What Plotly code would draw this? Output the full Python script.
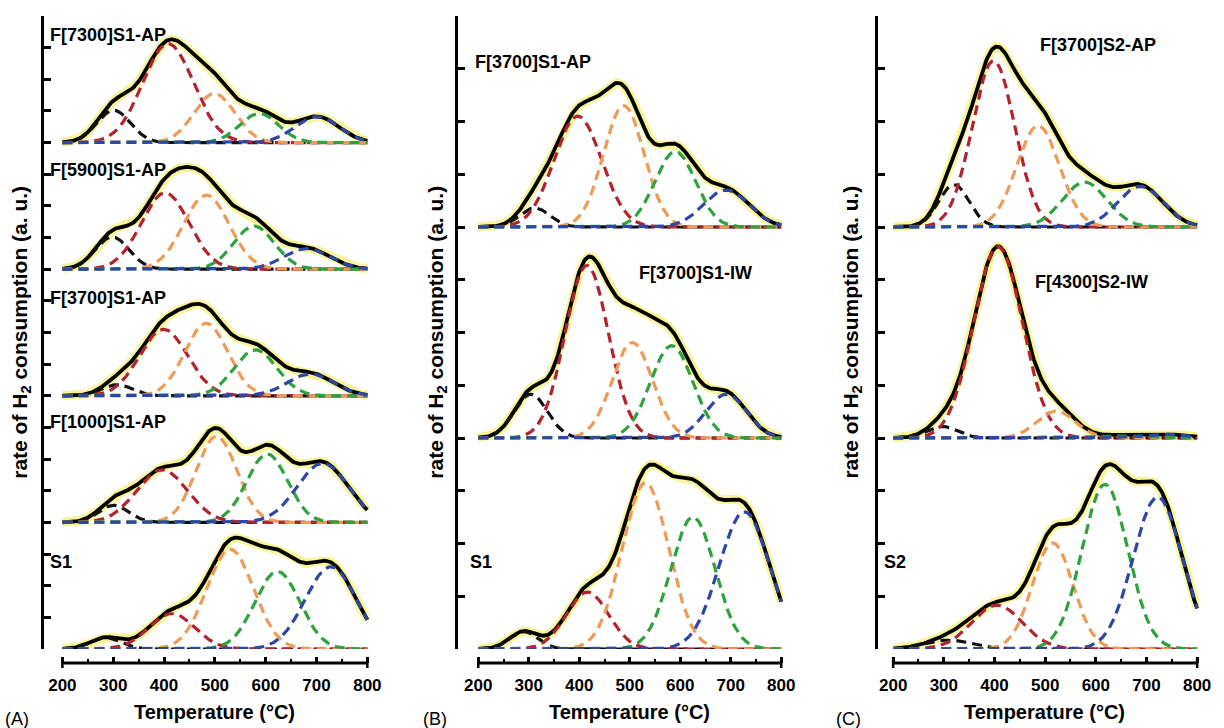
import numpy as np
import plotly.graph_objects as go

# ---------------- data ----------------
T_MIN, T_MAX = 200, 800
TEMPS = np.arange(T_MIN, T_MAX + 1, 2)
TICK_VALUES = [200, 300, 400, 500, 600, 700, 800]
TICK_LABELS = ["200", "300", "400", "500", "600", "700", "800"]
COMPONENTS = ["black", "red", "orange", "green", "blue"]

# Gaussian deconvolution peaks: centre (deg C), height (a.u.), sigma (deg C)
# order of components: black, red, orange, green, blue
A_F7300_center = [301, 408, 499, 587, 701]
A_F7300_height = [1.02, 3.12, 1.55, 0.92, 0.82]
A_F7300_sigma = [33, 50, 40, 38, 43]

A_F5900_center = [298, 402, 483, 577, 681]
A_F5900_height = [1.02, 2.41, 2.34, 1.36, 0.65]
A_F5900_sigma = [33, 47, 45, 40, 45]

A_F3700_center = [308, 399, 483, 580, 688]
A_F3700_height = [0.35, 2.10, 2.29, 1.45, 0.69]
A_F3700_sigma = [30, 47, 42, 42, 45]

A_F1000_center = [301, 396, 503, 603, 712]
A_F1000_height = [0.54, 1.66, 2.72, 2.16, 1.87]
A_F1000_sigma = [30, 50, 40, 40, 50]

A_S1_center = [285, 415, 530, 623, 728]
A_S1_height = [0.36, 1.12, 3.15, 2.45, 2.60]
A_S1_sigma = [30, 45, 46, 44, 50]

B_F3700AP_center = [312, 397, 488, 590, 691]
B_F3700AP_height = [0.36, 2.10, 2.30, 1.43, 0.70]
B_F3700AP_sigma = [30, 47, 40, 40, 45]

B_F3700IW_center = [304, 415, 505, 583, 691]
B_F3700IW_height = [0.83, 3.27, 1.81, 1.75, 0.83]
B_F3700IW_sigma = [33, 43, 40, 42, 40]

B_S1_center = [290, 416, 531, 625, 727]
B_S1_height = [0.33, 1.08, 3.15, 2.50, 2.60]
B_S1_sigma = [28, 42, 46, 44, 50]

C_F3700S2AP_center = [320, 398, 486, 578, 688]
C_F3700S2AP_height = [0.80, 3.15, 1.92, 0.85, 0.77]
C_F3700S2AP_sigma = [30, 42, 42, 44, 45]

C_F4300S2IW_center = [297, 407, 522, 640, 730]
C_F4300S2IW_height = [0.22, 3.63, 0.51, 0.04, 0.07]
C_F4300S2IW_sigma = [30, 48, 38, 45, 50]

C_S2_center = [310, 405, 515, 618, 722]
C_S2_height = [0.17, 0.83, 2.01, 3.12, 2.88]
C_S2_sigma = [45, 50, 40, 45, 48]

# sample names and vertical offsets (a.u.) of each stacked profile
A_names = ["F[7300]S1-AP", "F[5900]S1-AP", "F[3700]S1-AP", "F[1000]S1-AP", "S1"]
A_offsets = [16, 12, 8, 4, 0]
B_names = ["F[3700]S1-AP", "F[3700]S1-IW", "S1"]
B_offsets = [8, 4, 0]
C_names = ["F[3700]S2-AP", "F[4300]S2-IW", "S2"]
C_offsets = [8, 4, 0]

# ---------------- styles ----------------
COLORS = {"black": "#111111", "red": "#B3232D", "orange": "#F09A57",
          "green": "#2EA23C", "blue": "#2F47A4"}
FONT = "Arial, Liberation Sans, sans-serif"
W, H = 1224, 728


def px_x(p):
    return p / W


def px_y(p):
    return 1 - p / H


panels = [
    dict(key="", names=A_names, offsets=A_offsets,
         peaks=[(A_F7300_center, A_F7300_height, A_F7300_sigma),
                (A_F5900_center, A_F5900_height, A_F5900_sigma),
                (A_F3700_center, A_F3700_height, A_F3700_sigma),
                (A_F1000_center, A_F1000_height, A_F1000_sigma),
                (A_S1_center, A_S1_height, A_S1_sigma)],
         ymax=20, axis_px=44, t200_px=63, t800_px=371,
         labels=[(48, 35), (48, 170), (48, 298), (48, 422), (48, 562)],
         ytitle_x=21, xtitle_x=217, tag="(A)", tag_x=17),
    dict(key="2", names=B_names, offsets=B_offsets,
         peaks=[(B_F3700AP_center, B_F3700AP_height, B_F3700AP_sigma),
                (B_F3700IW_center, B_F3700IW_height, B_F3700IW_sigma),
                (B_S1_center, B_S1_height, B_S1_sigma)],
         ymax=12, axis_px=463, t200_px=483, t800_px=789,
         labels=[(478, 62), (643, 273), (473, 562)],
         ytitle_x=441, xtitle_x=636, tag="(B)", tag_x=439),
    dict(key="3", names=C_names, offsets=C_offsets,
         peaks=[(C_F3700S2AP_center, C_F3700S2AP_height, C_F3700S2AP_sigma),
                (C_F4300S2IW_center, C_F4300S2IW_height, C_F4300S2IW_sigma),
                (C_S2_center, C_S2_height, C_S2_sigma)],
         ymax=12, axis_px=887, t200_px=902, t800_px=1209,
         labels=[(1048, 45), (1043, 282), (891, 562)],
         ytitle_x=860, xtitle_x=1055, tag="(C)", tag_x=857),
]

Y_TOP_PX, Y_BOT_PX, XAXIS_PX = 16, 649, 663

fig = go.Figure()
shapes = []
annotations = []

for pan in panels:
    k = pan["key"]
    xref = "x" + k
    yref = "y" + k
    for (cen, hgt, sig), off in zip(pan["peaks"], pan["offsets"]):
        comps = [h * np.exp(-((TEMPS - c) ** 2) / (2 * s ** 2))
                 for c, h, s in zip(cen, hgt, sig)]
        total = np.sum(comps, axis=0)
        # measured-data band (yellow)
        fig.add_trace(go.Scatter(x=TEMPS, y=total + off, mode="lines",
                                 line=dict(color="rgba(242,234,50,0.5)", width=9),
                                 xaxis=xref, yaxis=yref, hoverinfo="skip"))
        # fitted envelope
        fig.add_trace(go.Scatter(x=TEMPS, y=total + off, mode="lines",
                                 line=dict(color="#000000", width=3.8),
                                 xaxis=xref, yaxis=yref, hoverinfo="skip"))
        for name, comp in zip(COMPONENTS, comps):
            fig.add_trace(go.Scatter(x=TEMPS, y=comp + off, mode="lines",
                                     line=dict(color=COLORS[name], width=3.2,
                                               dash="10px,6px"),
                                     xaxis=xref, yaxis=yref, hoverinfo="skip"))

    ppd = (pan["t800_px"] - pan["t200_px"]) / 600.0
    x_lo = 200 - (pan["t200_px"] - pan["axis_px"]) / ppd
    x_hi = 800 + 2 / ppd
    xdom = [px_x(pan["axis_px"]), px_x(pan["t800_px"] + 2)]
    ax = dict(domain=xdom, range=[x_lo, x_hi], anchor="free",
              position=px_y(XAXIS_PX), showline=False, showgrid=False,
              zeroline=False, ticks="inside", ticklen=6, tickwidth=2.5,
              tickcolor="black", tickvals=TICK_VALUES, ticktext=TICK_LABELS,
              tickfont=dict(family=FONT, size=17, color="black", weight="bold"),
              minor=dict(ticks="inside", ticklen=4, tickwidth=2,
                         tickcolor="black", dtick=50, tick0=0),
              ticklabelstandoff=10)
    ay = dict(domain=[px_y(Y_BOT_PX), px_y(Y_TOP_PX)], range=[0, pan["ymax"]],
              anchor=xref, showline=True, linewidth=3, linecolor="black",
              ticks="inside", ticklen=7, tickwidth=2.5, tickcolor="black",
              dtick=1, tick0=0, showticklabels=False, showgrid=False,
              zeroline=False)
    fig.update_layout(**{"xaxis" + k: ax, "yaxis" + k: ay})

    # x axis line with end caps
    yline = px_y(XAXIS_PX)
    shapes.append(dict(type="line", xref=xref, yref="paper", x0=200, x1=800,
                       y0=yline, y1=yline, line=dict(color="black", width=3)))
    for xe in (200, 800):
        shapes.append(dict(type="line", xref=xref, yref="paper", x0=xe, x1=xe,
                           y0=px_y(XAXIS_PX + 5), y1=px_y(XAXIS_PX - 6),
                           line=dict(color="black", width=2.5)))

    for name, (lx, ly) in zip(pan["names"], pan["labels"]):
        annotations.append(dict(text=name, xref="paper", yref="paper",
                                x=px_x(lx), y=px_y(ly), xanchor="left",
                                yanchor="middle", showarrow=False,
                                font=dict(family=FONT, size=18, color="black",
                                          weight="bold")))
    annotations.append(dict(text="rate of H<sub>2</sub> consumption (a. u.)",
                            xref="paper", yref="paper",
                            x=px_x(pan["ytitle_x"]), y=px_y(332), textangle=-90,
                            xanchor="center", yanchor="middle", showarrow=False,
                            font=dict(family=FONT, size=21, color="black",
                                      weight="bold")))
    annotations.append(dict(text="Temperature (°C)", xref="paper", yref="paper",
                            x=px_x(pan["xtitle_x"]), y=px_y(712),
                            xanchor="center", yanchor="middle", showarrow=False,
                            font=dict(family=FONT, size=20, color="black",
                                      weight="bold")))
    annotations.append(dict(text=pan["tag"], xref="paper", yref="paper",
                            x=px_x(pan["tag_x"]), y=px_y(719),
                            xanchor="center", yanchor="middle", showarrow=False,
                            font=dict(family=FONT, size=18, color="black")))

fig.update_layout(width=W, height=H, margin=dict(l=0, r=0, t=0, b=0),
                  paper_bgcolor="white", plot_bgcolor="white",
                  showlegend=False, shapes=shapes, annotations=annotations)

fig.write_html("out.html", config={"displayModeBar": False},
               post_script="document.body.style.margin='0px';"
                           "document.body.style.overflow='hidden';")
